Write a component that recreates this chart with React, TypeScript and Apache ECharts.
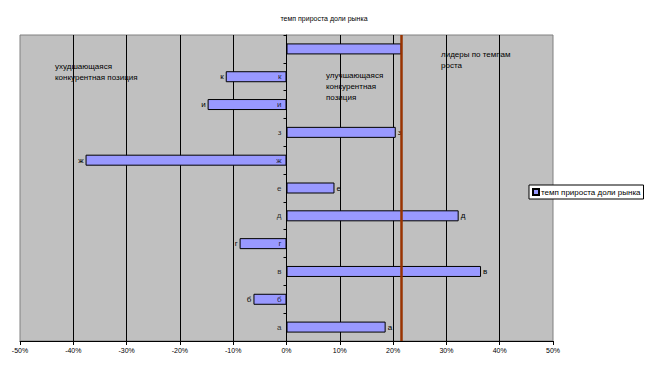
import React, { useEffect, useRef } from "react";
import * as echarts from "echarts";

const title = "темп прироста доли рынка";
const seriesName = "темп прироста доли рынка";
// bottom to top
const categories = ["а", "б", "в", "г", "д", "е", "ж", "з", "и", "к", ""];
const values = [18.6, -6.2, 36.5, -8.8, 32.3, 9.0, -37.7, 20.5, -14.8, -11.4, 21.6];
const leaderThreshold = 21.6;
const xMin = -50;
const xMax = 50;
const xStep = 10;
const noteWorse = "ухудшающаяся\nконкурентная позиция";
const noteBetter = "улучшающаяся\nконкурентная\nпозиция";
const noteLeaders = "лидеры по темпам\nроста";

const FONT = "'Liberation Sans', Arial, sans-serif";

export default function App() {
  const ref = useRef<HTMLDivElement>(null);
  useEffect(() => {
    if (!ref.current) return;
    const chart = echarts.init(ref.current, undefined, { renderer: "svg" });
    chart.setOption({
      animation: false,
      backgroundColor: "#ffffff",
      textStyle: { fontFamily: FONT },
      title: {
        text: title,
        left: "center",
        top: 10,
        textStyle: { fontSize: 7, fontWeight: "normal", color: "#000", fontFamily: FONT },
      },
      legend: {
        data: [seriesName],
        left: 529,
        top: 185,
        orient: "vertical",
        backgroundColor: "#ffffff",
        borderColor: "#000",
        borderWidth: 1,
        borderRadius: 0,
        padding: [3, 3, 3, 3],
        itemWidth: 6,
        itemHeight: 6,
        itemGap: 2,
        icon: "rect",
        textStyle: { fontSize: 8, color: "#000", fontFamily: FONT, padding: [0, 0, 0, -3] },
      },
      grid: {
        left: 20,
        right: 95,
        top: 35,
        bottom: 33,
        show: true,
        backgroundColor: "#c0c0c0",
        borderColor: "#808080",
        borderWidth: 1,
      },
      xAxis: {
        type: "value",
        min: xMin,
        max: xMax,
        interval: xStep,
        axisLine: { show: true, lineStyle: { color: "#000", width: 1 } },
        axisTick: { show: true, length: 4, lineStyle: { color: "#000" } },
        axisLabel: {
          formatter: (v: number) => `${v}%`,
          fontSize: 7,
          color: "#000",
          margin: 6,
          fontFamily: FONT,
        },
        splitLine: {
          show: true,
          showMinLine: false,
          showMaxLine: false,
          lineStyle: { color: "#000", width: 1 },
        },
      },
      yAxis: {
        type: "category",
        data: categories,
        axisLine: { show: true, onZero: true, lineStyle: { color: "#000", width: 1 } },
        axisTick: { show: true, length: 3, lineStyle: { color: "#000" } },
        axisLabel: { show: false },
        splitLine: { show: false },
      },
      series: [
        {
          name: seriesName,
          type: "bar",
          data: values.map((v) => ({
            value: v,
            label: { position: v < 0 ? "left" : "right" },
          })),
          barWidth: 11,
          itemStyle: { color: "#9999ff", borderColor: "#000", borderWidth: 1 },
          label: {
            show: true,
            distance: 2,
            fontSize: 8,
            color: "#000",
            fontFamily: FONT,
            formatter: (p: any) => categories[p.dataIndex],
          },
          markLine: {
            silent: true,
            symbol: "none",
            label: { show: false },
            lineStyle: { color: "#993300", width: 2.5, type: "solid" },
            data: [{ xAxis: leaderThreshold }],
          },
        },
        {
          name: "axis-labels",
          type: "scatter",
          silent: true,
          symbolSize: 0,
          itemStyle: { color: "transparent" },
          data: categories.map((c) => [0, c]),
          label: {
            show: true,
            position: "left",
            distance: 5,
            fontSize: 8,
            color: "#000",
            fontFamily: FONT,
            formatter: (p: any) => categories[p.dataIndex],
          },
          z: 5,
        },
      ],
      graphic: [
        {
          type: "text",
          left: 55,
          top: 61,
          style: { text: noteWorse, fontSize: 8, fill: "#000", fontFamily: FONT, lineHeight: 11 },
        },
        {
          type: "text",
          left: 326,
          top: 70,
          style: { text: noteBetter, fontSize: 8, fill: "#000", fontFamily: FONT, lineHeight: 11 },
        },
        {
          type: "text",
          left: 441,
          top: 49,
          style: { text: noteLeaders, fontSize: 8, fill: "#000", fontFamily: FONT, lineHeight: 11 },
        },
      ],
    });
    return () => chart.dispose();
  }, []);
  return (
    <div
      ref={ref}
      style={{ position: "fixed", left: 0, top: 0, width: 648, height: 374 }}
    />
  );
}
